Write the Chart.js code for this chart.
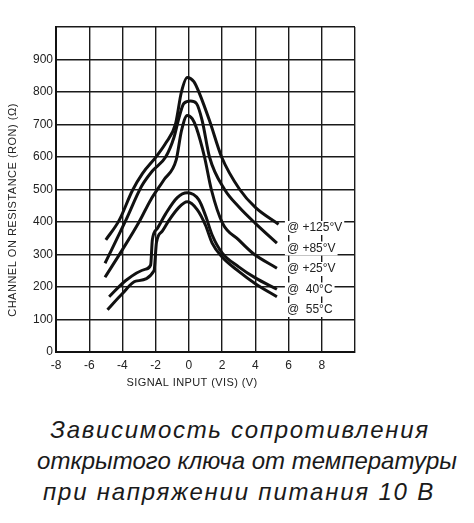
<!DOCTYPE html>
<html>
<head>
<meta charset="utf-8">
<script src="https://cdn.jsdelivr.net/npm/chart.js@4"></script>
<style>
  body { margin: 0; background: #fff; }
  #wrap { position: relative; width: 474px; height: 400px; }
  #caption {
    width: 474px; text-align: center; color: #1a1a1a;
    font-family: "Liberation Sans", Arial, sans-serif; font-style: italic;
    font-size: 24px; line-height: 31px; margin-top: 14px;
  }
  #caption div { position: relative; white-space: nowrap; }
  #l1 { letter-spacing: 1.7px; left: 3px; }
  #l2 { letter-spacing: 0px; left: 10px; }
  #l3 { letter-spacing: 1.8px; left: 2px; }
</style>
</head>
<body>
<div id="wrap"><canvas id="chart" width="474" height="400"></canvas></div>
<div id="caption">
  <div id="l1">Зависимость сопротивления</div>
  <div id="l2">открытого ключа от температуры</div>
  <div id="l3">при напряжении питания 10 В</div>
</div>
<script>
// curves: [signal input V, resistance]
const r125 = [[-5.0,345],[-4.2,405],[-3.4,497],[-2.8,549],[-2.0,599],[-1.4,642],[-0.8,703],[-0.45,800],[-0.1,845],[0.3,832],[0.64,795],[1.24,712],[1.97,600],[3.06,500],[4.0,445],[5.4,393]];
const r85 = [[-5.05,273],[-3.8,405],[-2.85,510],[-2.2,557],[-1.4,600],[-0.9,660],[-0.6,720],[-0.3,765],[0.1,772],[0.45,765],[0.8,712],[1.24,600],[2.15,500],[3.0,447],[4.0,396],[5.3,335]];
const r25 = [[-5.05,230],[-4.0,315],[-3.0,400],[-2.3,468],[-1.5,530],[-0.76,592],[-0.45,680],[-0.1,728],[0.2,718],[0.45,690],[0.94,600],[1.35,500],[2.03,396],[3.0,345],[3.85,304],[5.3,258]];
const r40 = [[-4.8,170],[-3.8,220],[-2.6,255],[-2.3,268],[-2.2,345],[-1.9,380],[-1.4,425],[-0.7,475],[-0.1,490],[0.6,468],[1.0,420],[1.4,360],[2.0,305],[3.0,262],[4.0,228],[5.3,193]];
const r55 = [[-4.9,130],[-4.0,180],[-3.2,218],[-2.1,250],[-1.95,338],[-1.6,372],[-1.2,405],[-0.6,445],[-0.1,462],[0.5,438],[1.0,390],[1.4,335],[2.0,292],[3.0,248],[4.0,210],[5.3,170]];
const curveLabels = ['@ +125°V', '@ +85°V', '@ +25°V', '@  40°C', '@  55°C'];
const xTitle = 'SIGNAL INPUT (VIS) (V)';
const yTitle = 'CHANNEL ON RESISTANCE (RON) (Ω)';
const xRange = [-8, 10];
const yRange = [0, 1000];

const series = [r125, r85, r25, r40, r55];
const font = 'Liberation Sans';

// curve labels inside the plot and the two axis titles
const textPlugin = {
    id: 'texts',
    afterDatasetsDraw(chart) {
        const { ctx, chartArea, scales: { x } } = chart;
        ctx.save();
        ctx.font = '12px "' + font + '"';
        ctx.textBaseline = 'middle';
        curveLabels.forEach((txt, i) => {
            const px = x.getPixelForValue(5.9);
            const py = chartArea.top + 201 + i * 20.5;
            const w = ctx.measureText(txt).width;
            ctx.fillStyle = '#fff';
            ctx.fillRect(px - 2, py - 7, w + 4, 14);
            ctx.fillStyle = '#222';
            ctx.fillText(txt, px, py);
        });

        ctx.fillStyle = '#222';
        ctx.textAlign = 'center';
        ctx.font = '11px "' + font + '"';
        ctx.letterSpacing = '0.4px';
        ctx.fillText(xTitle, 192, 383);

        ctx.letterSpacing = '0.5px';
        ctx.translate(13, 210);
        ctx.rotate(-Math.PI / 2);
        ctx.fillText(yTitle, 0, 0);
        ctx.restore();
    }
};

new Chart(document.getElementById('chart'), {
    type: 'scatter',
    data: {
        datasets: series.map((pts, i) => ({
            label: curveLabels[i],
            data: pts.map(p => ({ x: p[0], y: p[1] })),
            showLine: true,
            borderColor: '#111',
            borderWidth: 3,
            pointRadius: 0,
            cubicInterpolationMode: 'monotone'
        }))
    },
    options: {
        responsive: false,
        animation: false,
        layout: { padding: { left: 0, right: 119, top: 27, bottom: 8 } },
        plugins: { legend: { display: false }, tooltip: { enabled: false } },
        scales: {
            x: {
                type: 'linear', min: xRange[0], max: xRange[1],
                afterFit(scale) { scale.height = 40; },
                ticks: {
                    stepSize: 2, color: '#222', padding: 6,
                    font: { family: font, size: 12 },
                    callback: v => v === 10 ? '' : v
                },
                grid: { color: '#1a1a1a', lineWidth: 1.4, drawTicks: false },
                border: { color: '#111', width: 2 }
            },
            y: {
                min: yRange[0], max: yRange[1],
                afterFit(scale) { scale.width = 56; },
                ticks: {
                    stepSize: 100, color: '#222', padding: 3,
                    font: { family: font, size: 12 },
                    callback: v => v === 1000 ? '' : v
                },
                grid: { color: '#1a1a1a', lineWidth: 1.4, drawTicks: false },
                border: { color: '#111', width: 2 }
            }
        }
    },
    plugins: [textPlugin]
});
</script>
</body>
</html>
